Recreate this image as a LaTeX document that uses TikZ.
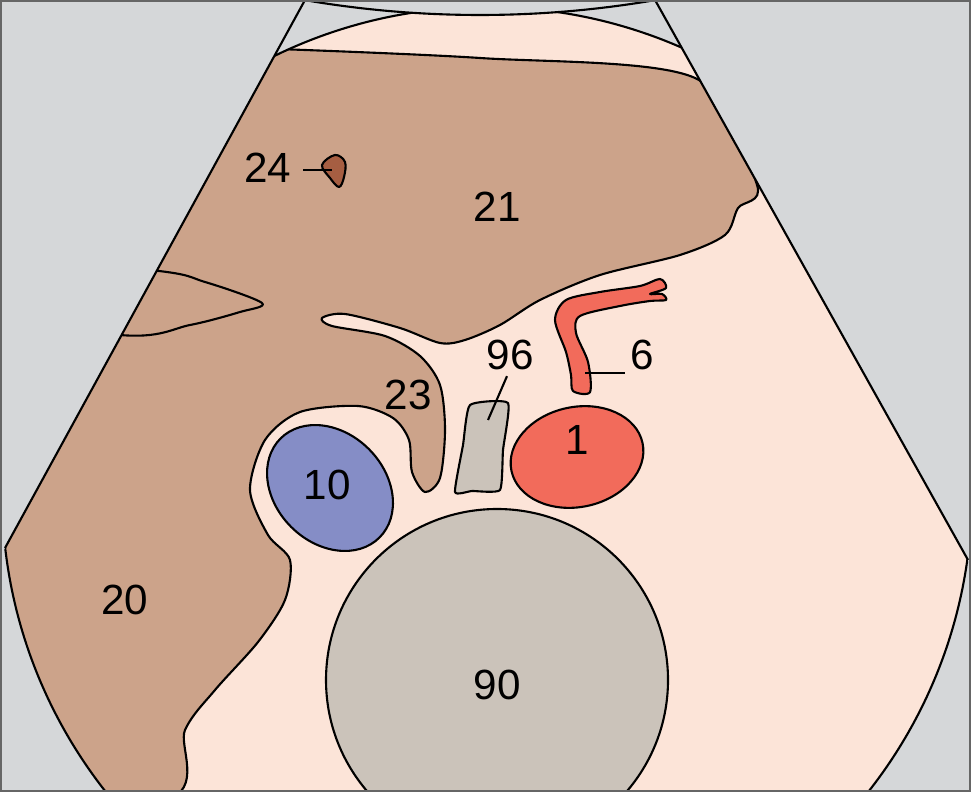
\documentclass[tikz,border=0pt]{standalone}
\usepackage{fontspec}
\setmainfont{Liberation Sans}
\definecolor{bgray}{HTML}{D5D7D9}
\definecolor{pale}{HTML}{FCE4D8}
\definecolor{liver}{HTML}{CCA38A}
\definecolor{vein}{HTML}{858DC6}
\definecolor{artery}{HTML}{F26B5B}
\definecolor{bone}{HTML}{CBC3BA}
\definecolor{lesion}{HTML}{A65E42}
\tikzset{
  organ/.style={draw=black, line width=0.6pt, line join=round},
  lbl/.style={font=\fontsize{12}{14}\selectfont, inner sep=1pt},
}
\begin{document}
\begin{tikzpicture}[x=0.01cm, y=-0.01cm]
          \useasboundingbox (0,0) rectangle (971,792);
          \fill[bgray] (0,0) rectangle (971,792);

          % sector
          \begin{scope}
            \clip (305,0) -- (655,0) -- (1376,1290) -- (-401,1290) -- cycle;
            \begin{scope}
              \clip (487,492) circle[radius=485];
              \fill[pale] (0,0) rectangle (971,792);

              % liver
              \path[organ, fill=liver] plot[smooth, tension=0.5] coordinates {
                (250,48) (480,58) (695,78) (757,185) (738,208) (725,235) (680,255)
                (600,275) (540,300) (500,325) (465,340) (440,343) (400,328)
                (345,314) (322,318) (332,326) (385,336) (420,356) (440,385)
                (445,430) (440,478) (425,492) (412,472) (409,440) (393,418)
                (358,406) (300,412) (265,440) (250,490) (268,535) (290,560)
                (285,600) (258,642) (215,690) (185,730) (165,800) (-100,800)
                (-100,250) (150,270) (205,282) (262,303) (240,312) (190,325)
                (120,335) (-100,300) (-100,50)};

              \fill[bone, draw=black, line width=0.6pt] (497,680) circle[radius=171];
            \end{scope}
            \draw[line width=0.6pt] (487,492) circle[radius=485];
            \fill[bgray, draw=black, line width=0.6pt] (480,-1013) circle[radius=1028];
          \end{scope}
          \draw[line width=0.6pt] (305,0) -- (5,548) (655,0) -- (968,560);

          % vessels and spine
          \draw[organ, fill=vein] (330,488) ellipse[x radius=70, y radius=55, rotate=-45];
          \draw[organ, fill=artery] (577,457) ellipse[x radius=67, y radius=50, rotate=12];
          \path[organ, fill=artery] plot[smooth cycle, tension=0.5] coordinates {
            (573,391) (590,392) (588,362) (576,333) (580,316) (620,306)
            (650,301) (666,300) (662,294) (650,294) (666,288) (660,279)
            (640,286) (600,292) (566,300) (555,320) (566,352) (571,375)};
          \path[organ, fill=bone] plot[smooth cycle, tension=0.3] coordinates {
            (470,405) (508,403) (503,450) (500,490) (472,491) (455,492) (463,445)};
          \path[organ, fill=lesion] plot[smooth cycle, tension=0.6] coordinates {
            (322,165) (335,155) (345,162) (344,177) (339,187) (330,178)};

          % labels
          \node[lbl] (l24) at (268,168) {24};
          \node[lbl] (l21) at (497,207) {21};
          \node[lbl] (l96) at (510,355) {96};
          \node[lbl] (l6)  at (642,355) {6};
          \node[lbl] (l23) at (408,395) {23};
          \node[lbl] (l10) at (327,485) {10};
          \node[lbl] (l1)  at (577,440) {1};
          \node[lbl] (l20) at (125,600) {20};
          \node[lbl] (l90) at (497,685) {90};
          \coordinate (p24) at (332,170);
          \coordinate (p96) at (488,420);
          \coordinate (p6)  at (585,373);
          \draw[line width=0.6pt] (303,170) -- (p24);
          \draw[line width=0.6pt] (l96.south) ++(-3,2) -- (p96);
          \draw[line width=0.6pt] (p6) -- (625,373);

          \draw[black!60, line width=0.6pt] (1,1) rectangle (970,791);
\end{tikzpicture}
\end{document}
